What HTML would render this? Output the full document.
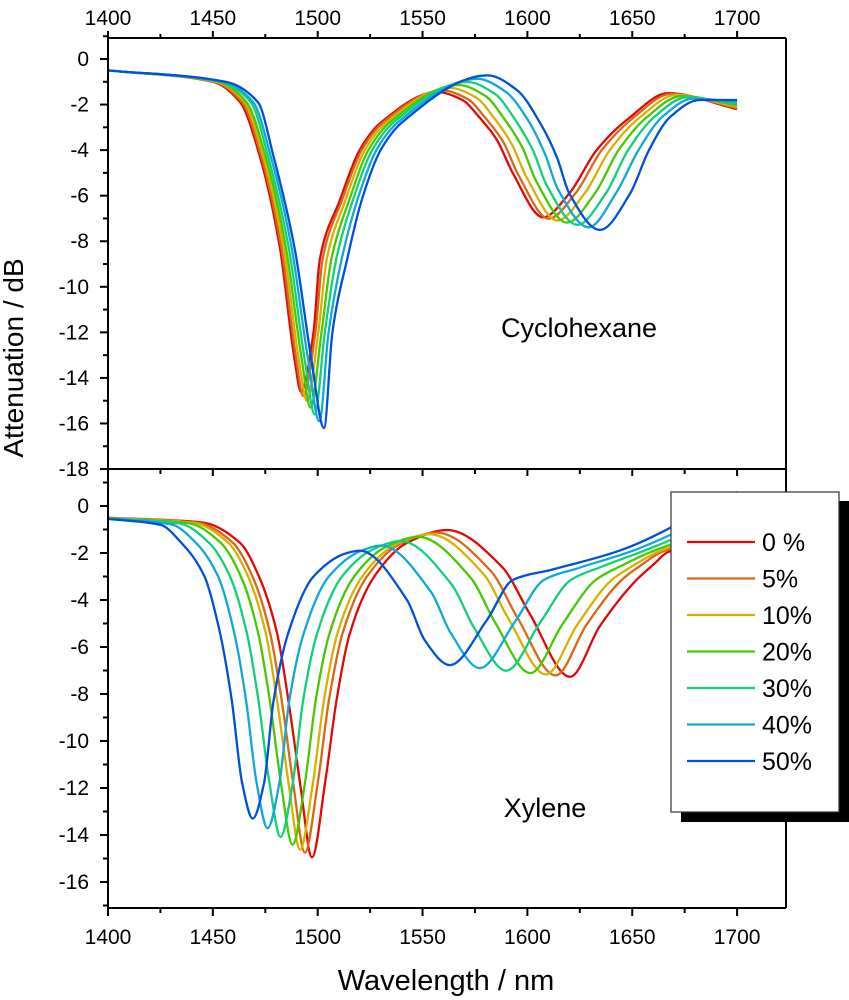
<!DOCTYPE html>
<html><head><meta charset="utf-8"><style>
body{margin:0;background:#fff}
svg{display:block;font-family:"Liberation Sans",Arial,sans-serif}
</style></head><body>
<svg id="chart" width="849" height="1000" viewBox="0 0 849 1000" xmlns="http://www.w3.org/2000/svg">
<defs>
<clipPath id="clipTop"><rect x="108" y="38" width="678" height="431"/></clipPath>
<clipPath id="clipBot"><rect x="108" y="469" width="678" height="439"/></clipPath>
</defs>
<g id="top-series" clip-path="url(#clipTop)"></g>
<g id="bot-series" clip-path="url(#clipBot)"></g>
<g id="axes"></g>
<text x="579" y="337" font-size="27" text-anchor="middle">Cyclohexane</text>
<text x="545" y="817" font-size="27" text-anchor="middle">Xylene</text>
<text transform="translate(23,358) rotate(-90)" font-size="28" text-anchor="middle">Attenuation / dB</text>
<text x="446" y="990" font-size="29" text-anchor="middle">Wavelength / nm</text>
<g id="legend">
<rect x="681" y="501" width="168" height="321" fill="#000"/>
<rect x="671" y="492" width="168" height="320" fill="#fff" stroke="#333" stroke-width="1.2"/>
</g>
</svg>
<script>
const labels = ["0 %","5%","10%","20%","30%","40%","50%"];
const colors = ["#e00808","#d86818","#d8b000","#48c800","#10d078","#10a8d8","#0050d8"];

// Cyclohexane (top panel) wavelengths / attenuation per series
const topWl0 = [1400,1450,1463,1472.5,1482,1489,1492,1498,1501,1510.6,1520,1530,1557,1569,1577,1585.5,1593,1607.5,1620,1633,1649,1667,1700];
const topAt0 = [-0.5,-1.0,-1.9,-4.3,-8.3,-13.2,-14.6,-12,-8.8,-6.2,-4.0,-2.8,-1.45,-1.8,-2.55,-3.56,-5.0,-6.95,-5.9,-4.0,-2.55,-1.5,-2.2];
const topWl5 = [1400,1450.6,1463.9,1473.2,1482.7,1489.8,1493.1,1498.9,1502.3,1511.6,1521,1531,1559.4,1571.6,1579.9,1588.4,1595.7,1610.2,1622.9,1635.5,1650.9,1668.5,1700];
const topAt5 = [-0.5,-1.0,-1.9,-4.3,-8.3,-13.2,-14.8,-12,-8.8,-6.2,-4.0,-2.8,-1.38,-1.76,-2.58,-3.63,-5.09,-7.01,-5.9,-4.0,-2.55,-1.53,-2.16];
const topWl10 = [1400,1451.5,1465.1,1474.1,1483.8,1491,1494.8,1500.3,1504.3,1513.2,1522.5,1532.5,1563,1575.5,1584.3,1592.6,1599.8,1614.3,1627.3,1639.3,1653.8,1670.8,1700];
const topAt10 = [-0.5,-1.0,-1.9,-4.3,-8.3,-13.2,-15.0,-12,-8.8,-6.2,-4.0,-2.8,-1.27,-1.69,-2.61,-3.75,-5.23,-7.09,-5.9,-4.0,-2.55,-1.58,-2.1];
const topWl20 = [1400,1452.5,1466.1,1475.2,1484.9,1492.4,1496.6,1501.8,1506.5,1515,1524.2,1534.2,1567.1,1579.9,1589.2,1597.5,1604.3,1618.9,1632.2,1643.5,1657,1673.3,1700];
const topAt20 = [-0.5,-1.0,-1.9,-4.3,-8.3,-13.2,-15.3,-12,-8.8,-6.2,-4.0,-2.8,-1.14,-1.62,-2.66,-3.87,-5.38,-7.18,-5.9,-4.0,-2.55,-1.63,-2.03];
const topWl30 = [1400,1453.6,1468.1,1476.4,1486.2,1493.8,1498.6,1503.4,1508.8,1516.8,1526,1536,1571.4,1584.6,1594.4,1602.6,1609.2,1623.8,1637.4,1648,1660.4,1676,1700];
const topAt30 = [-0.5,-1.0,-1.9,-4.3,-8.3,-13.2,-15.6,-12,-8.8,-6.2,-4.0,-2.8,-1.01,-1.54,-2.7,-4.0,-5.54,-7.28,-5.9,-4.0,-2.55,-1.68,-1.96];
const topWl40 = [1400,1454.8,1469.3,1477.7,1487.6,1495.4,1500.8,1505.2,1511.4,1518.9,1528,1538,1576.2,1589.8,1600.7,1608.3,1614.6,1629.2,1642.2,1653,1664.2,1679,1700];
const topAt40 = [-0.5,-1.0,-1.9,-4.3,-8.3,-13.2,-15.9,-12,-8.8,-6.2,-4.0,-2.8,-0.87,-1.45,-2.75,-4.15,-5.72,-7.39,-5.9,-4.0,-2.55,-1.74,-1.88];
const topWl50 = [1400,1456,1471.5,1479,1489,1497,1503,1507,1514,1521,1530,1540,1581,1595,1606,1614,1620,1634.6,1649,1658,1668,1682,1700];
const topAt50 = [-0.5,-1.0,-1.9,-4.3,-8.3,-13.2,-16.2,-12,-8.8,-6.2,-4.0,-2.8,-0.72,-1.36,-2.8,-4.3,-5.9,-7.5,-5.9,-4.0,-2.55,-1.8,-1.8];

// Xylene (bottom panel)
const botWl0 = [1400,1445,1463,1472,1480.6,1486,1491.6,1497.3,1503.5,1509,1515.4,1527,1542.6,1561.7,1588,1601,1620.3,1634.6,1652,1660,1667,1700];
const botAt0 = [-0.5,-0.7,-1.57,-3.0,-5.4,-8.25,-11.8,-14.95,-11.8,-8.25,-5.4,-3.0,-1.57,-1.02,-2.6,-4.57,-7.27,-5.1,-3.15,-2.5,-1.96,-1.3];
const botWl5 = [1400,1442.6,1459.6,1468.9,1477.3,1482.8,1488.3,1493.9,1500,1505.4,1511.9,1523.5,1539.2,1556.7,1582.6,1595,1613.4,1628.1,1644.9,1654.2,1664.2,1700];
const botAt5 = [-0.51,-0.71,-1.57,-3,-5.4,-8.25,-11.8,-14.75,-11.8,-8.25,-5.4,-3,-1.62,-1.13,-2.77,-4.71,-7.21,-5.07,-3.15,-2.52,-1.95,-1.07];
const botWl10 = [1400,1441,1457.4,1466.8,1475.2,1480.6,1486.1,1491.6,1497.7,1503,1509.5,1521.2,1536.9,1553.4,1578.9,1591,1608.8,1623.8,1640.2,1650.4,1662.4,1700];
const botAt10 = [-0.51,-0.72,-1.57,-3,-5.4,-8.25,-11.8,-14.62,-11.8,-8.25,-5.4,-3,-1.66,-1.2,-2.88,-4.8,-7.17,-5.05,-3.15,-2.54,-1.95,-0.92];
const botWl20 = [1400,1438.4,1453.8,1463.4,1471.6,1477.1,1482.5,1488,1493.9,1499.1,1505.7,1517.4,1533.2,1547.9,1573,1584.5,1601.4,1616.8,1632.5,1644.2,1659.4,1700];
const botAt20 = [-0.52,-0.73,-1.57,-3,-5.4,-8.25,-11.8,-14.41,-11.8,-8.25,-5.4,-3,-1.71,-1.31,-3.06,-4.94,-7.11,-5.02,-3.15,-2.57,-1.94,-0.67];
const botWl30 = [1400,1434.4,1448.2,1458.2,1466.2,1471.7,1477,1482.3,1488.1,1493.1,1499.8,1511.6,1527.4,1539.6,1563.9,1574.5,1589.9,1606,1620.7,1634.6,1654.8,1700];
const botAt30 = [-0.53,-0.75,-1.57,-3,-5.4,-8.25,-11.8,-14.08,-11.8,-8.25,-5.4,-3,-1.8,-1.49,-3.34,-5.17,-7.01,-4.97,-3.15,-2.61,-1.93,-0.29];
const botWl40 = [1400,1430,1442,1452.5,1460.2,1465.8,1470.9,1476.1,1481.7,1486.5,1493.4,1505.3,1521.2,1530.4,1554,1563.5,1577.3,1594.2,1607.8,1624,1649.8,1700];
const botAt40 = [-0.54,-0.78,-1.57,-3,-5.4,-8.25,-11.8,-13.71,-11.8,-8.25,-5.4,-3,-1.89,-1.68,-3.65,-5.42,-6.9,-4.91,-3.15,-2.65,-1.92,0.13];
const botWl50 = [1400,1425,1435,1446,1453.4,1459,1464,1469,1474.4,1479,1486,1498,1514,1520,1542.6,1551,1563,1580.7,1593,1612,1644,1700];
const botAt50 = [-0.55,-0.8,-1.57,-3.0,-5.4,-8.25,-11.8,-13.3,-11.8,-8.25,-5.4,-3.0,-2.0,-1.9,-4.0,-5.7,-6.77,-4.85,-3.15,-2.7,-1.9,0.6];

const xTicks = [1400,1450,1500,1550,1600,1650,1700];
const topYTicks = [0,-2,-4,-6,-8,-10,-12,-14,-16,-18];
const botYTicks = [0,-2,-4,-6,-8,-10,-12,-14,-16];

const NS = "http://www.w3.org/2000/svg";
const X = w => 108 + (w - 1400) * 2.097;
const YT = v => 59 - v * 22.78;
const YB = v => 506 - v * 23.5;

function mk(tag, attrs, parent){
  const e = document.createElementNS(NS, tag);
  for (const k in attrs) e.setAttribute(k, attrs[k]);
  parent.appendChild(e); return e;
}
// monotone cubic (Fritsch-Carlson) path through points sorted by x
function smoothPath(xs, ys){
  const n = xs.length, d = [], m = [];
  for (let i = 0; i < n-1; i++) d.push((ys[i+1]-ys[i])/(xs[i+1]-xs[i]));
  m[0] = d[0]; m[n-1] = d[n-2];
  for (let i = 1; i < n-1; i++){
    if (d[i-1]*d[i] <= 0) m[i] = 0;
    else {
      const h0 = xs[i]-xs[i-1], h1 = xs[i+1]-xs[i];
      const w1 = 2*h1+h0, w2 = h1+2*h0;
      m[i] = (w1+w2)/(w1/d[i-1]+w2/d[i]);
    }
  }
  let p = "M"+xs[0].toFixed(1)+","+ys[0].toFixed(1);
  for (let i = 0; i < n-1; i++){
    const h = (xs[i+1]-xs[i])/3;
    p += "C"+(xs[i]+h).toFixed(1)+","+(ys[i]+m[i]*h).toFixed(1)+" "+(xs[i+1]-h).toFixed(1)+","+(ys[i+1]-m[i+1]*h).toFixed(1)+" "+xs[i+1].toFixed(1)+","+ys[i+1].toFixed(1);
  }
  return p;
}
const topSets = [[topWl0,topAt0],[topWl5,topAt5],[topWl10,topAt10],[topWl20,topAt20],[topWl30,topAt30],[topWl40,topAt40],[topWl50,topAt50]];
const botSets = [[botWl0,botAt0],[botWl5,botAt5],[botWl10,botAt10],[botWl20,botAt20],[botWl30,botAt30],[botWl40,botAt40],[botWl50,botAt50]];
const gT = document.getElementById("top-series"), gB = document.getElementById("bot-series");
topSets.forEach((s, i) => {
  const p = mk("path", {d: smoothPath(s[0].map(X), s[1].map(YT)), fill:"none", stroke:colors[i], "stroke-width":2.3, "stroke-linejoin":"round"}, gT);
  
  
});
botSets.forEach((s, i) => {
  const p = mk("path", {d: smoothPath(s[0].map(X), s[1].map(YB)), fill:"none", stroke:colors[i], "stroke-width":2.3, "stroke-linejoin":"round"}, gB);
  
  
});

const ax = document.getElementById("axes");
const L = {stroke:"#000","stroke-width":2};
function line(x1,y1,x2,y2,name){
  const l = mk("line", Object.assign({x1,y1,x2,y2}, L), ax);
  
  
}
function txt(x,y,s,anchor,name){
  const t = mk("text", {x, y, "font-size":21, "text-anchor":anchor}, ax);
  t.textContent = s;
  
  
}
line(108,38,786,38,'top-axis-line');
line(108,469,786,469,'panel-separator');
line(108,908,786,908,'bottom-axis-line');
line(108,38,108,908,'left-axis-line');
line(786,38,786,908,'right-axis-line');
xTicks.forEach(w => {
  line(X(w),38,X(w),31,'top-x-tick');
  line(X(w),908,X(w),916,'bottom-x-tick');
  line(X(w),469,X(w),476,'mid-x-tick');
  txt(X(w),25,String(w),"middle",'top-x-tick-label');
  txt(X(w),944,String(w),"middle",'bottom-x-tick-label');
});
xTicks.slice(0,-1).forEach(w => {
  line(X(w+25),908,X(w+25),913,'bottom-x-minor-tick');
  line(X(w+25),469,X(w+25),474,'mid-x-minor-tick');
  line(X(w+25),38,X(w+25),34,'top-x-minor-tick');
});
topYTicks.forEach(v => {
  line(100,YT(v),108,YT(v),'top-y-tick');
  txt(89,YT(v)+7,String(v),"end",'top-y-tick-label');
  if (v > -18) line(103,YT(v-1),108,YT(v-1),'top-y-minor-tick');
});
line(103,YT(1),108,YT(1),'top-y-minor-tick');
botYTicks.forEach(v => {
  line(100,YB(v),108,YB(v),'bottom-y-tick');
  txt(89,YB(v)+7,String(v),"end",'bottom-y-tick-label');
  line(103,YB(v-1),108,YB(v-1),'bottom-y-minor-tick');
});
line(103,YB(1),108,YB(1),'bottom-y-minor-tick');

const lg = document.getElementById("legend");
labels.forEach((s,i) => {
  const y = 542 + i*36.5;
  const l = mk("line", {x1:687,y1:y,x2:755,y2:y,stroke:colors[i],"stroke-width":2.2}, lg);
  
  
  const t = mk("text", {x:762,y:y+9,"font-size":25}, lg);
  t.textContent = s;
  
  
});
</script>
</body></html>
